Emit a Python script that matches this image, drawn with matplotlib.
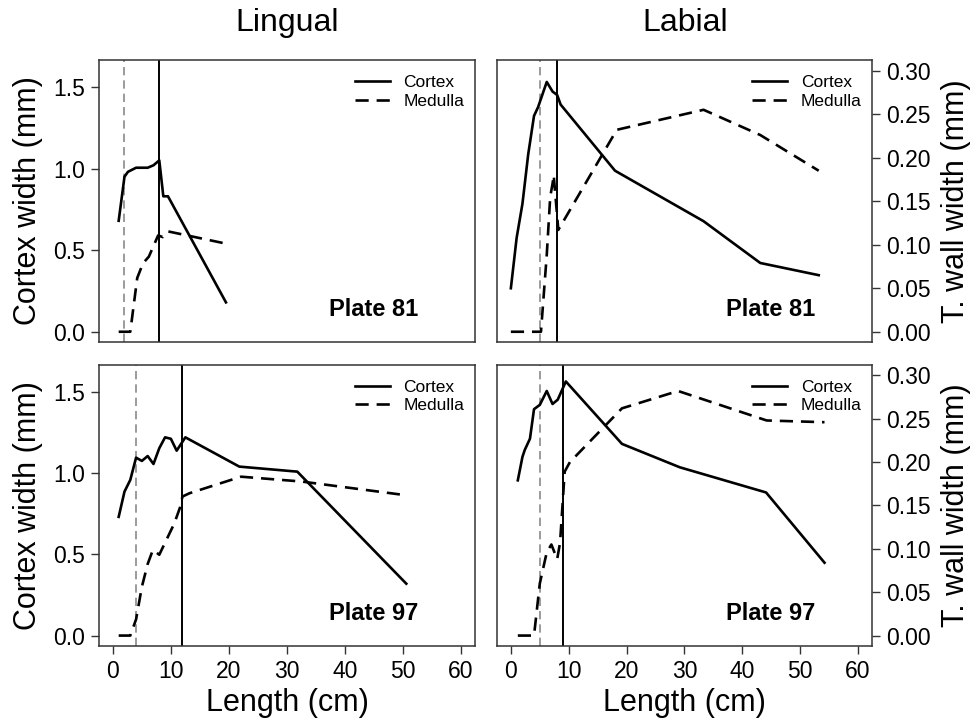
import matplotlib
matplotlib.use("Agg")
import matplotlib.pyplot as plt

plt.rcParams['font.family'] = ['Liberation Sans', 'DejaVu Sans']

# ---- Lingual, plate 81 ----
ling81_cortex_x = [1, 2, 2.6, 4, 6, 7, 8, 8.7, 9.5, 19.5]
ling81_cortex_y = [0.68, 0.95, 0.98, 1.005, 1.005, 1.02, 1.05, 0.83, 0.83, 0.18]
ling81_medulla_x = [1, 3, 4.2, 5.2, 6.2, 7.8, 8.6, 9.5, 19.5]
ling81_medulla_y = [0, 0, 0.33, 0.42, 0.46, 0.59, 0.58, 0.615, 0.54]

# ---- Labial, plate 81 ----
lab81_cortex_x = [0, 1, 2, 3, 4, 4.7, 6.2, 7.2, 8, 8.6, 18, 33.3, 43.1, 53.2]
lab81_cortex_y = [0.05, 0.108, 0.147, 0.204, 0.248, 0.258, 0.287, 0.276, 0.272,
                  0.261, 0.185, 0.127, 0.079, 0.065]
lab81_medulla_x = [0, 5.2, 6.2, 6.8, 7.2, 7.4, 8.2, 18.3, 33.3, 43.1, 53.2]
lab81_medulla_y = [0, 0, 0.088, 0.155, 0.17, 0.18, 0.117, 0.232, 0.255, 0.226, 0.185]

# ---- Lingual, plate 97 ----
ling97_cortex_x = [1, 2, 3, 4, 5, 6, 7, 8, 9, 10, 11, 12.5, 21.8, 31.8, 50.6]
ling97_cortex_y = [0.73, 0.885, 0.957, 1.094, 1.074, 1.104, 1.055, 1.152, 1.219,
                   1.21, 1.137, 1.219, 1.039, 1.008, 0.319]
ling97_medulla_x = [1, 3, 4, 5, 6, 6.9, 8, 10.6, 11.6, 12, 13.2, 22.1, 32.6, 50.1]
ling97_medulla_y = [0, 0, 0.1, 0.3, 0.44, 0.527, 0.497, 0.69, 0.79, 0.855, 0.875,
                    0.977, 0.947, 0.865]

# ---- Labial, plate 97 ----
lab97_cortex_x = [1.2, 2, 2.4, 3.3, 4, 5, 6.2, 7.2, 8.1, 9.5, 19.2, 29.2, 44.1, 54.2]
lab97_cortex_y = [0.179, 0.206, 0.214, 0.227, 0.261, 0.266, 0.282, 0.267, 0.272,
                  0.293, 0.221, 0.194, 0.165, 0.084]
lab97_medulla_x = [1.2, 4, 5, 6.2, 7, 8, 8.5, 9.3, 10.2, 19.2, 28.9, 44.2, 54.2]
lab97_medulla_y = [0, 0, 0.06, 0.096, 0.105, 0.088, 0.107, 0.189, 0.2, 0.262,
                   0.282, 0.248, 0.246]

# reference lengths (grey dashed / black solid verticals)
marks = {
    "ling81": (2, 8),
    "lab81": (5, 8),
    "ling97": (4, 12),
    "lab97": (5, 9),
}

x_ticks = [0, 10, 20, 30, 40, 50, 60]
cortex_ticks = [0.0, 0.5, 1.0, 1.5]
wall_ticks = [0.00, 0.05, 0.10, 0.15, 0.20, 0.25, 0.30]

SPINE = "#333333"

fig = plt.figure(figsize=(9.76, 7.25), dpi=100)

col_x = [0.1014, 0.5092]
col_w = [0.385, 0.3842]
row_y = [0.528, 0.109]
row_h = [0.389, 0.3876]


def panel(row, col, cx, cy, mx, my, key, plate):
    ax = fig.add_axes([col_x[col], row_y[row], col_w[col], row_h[row]])
    gx, bx = marks[key]
    ax.axvline(gx, color="#8a8a8a", lw=1.2, dashes=(5, 3), zorder=1)
    ax.axvline(bx, color="black", lw=1.4, zorder=1)
    ax.plot(cx, cy, color="black", lw=1.9, label="Cortex", zorder=3,
            solid_joinstyle="round")
    ax.plot(mx, my, color="black", lw=1.9, dashes=(5, 3), label="Medulla",
            zorder=3)

    ax.set_xlim(-2.4, 62.4)
    ax.set_xticks(x_ticks)
    for s in ax.spines.values():
        s.set_color(SPINE)
        s.set_linewidth(1.1)
    ax.tick_params(direction="out", length=6, width=1.0, color=SPINE,
                   labelsize=16.5, pad=4)
    if row == 0:
        ax.tick_params(axis="x", bottom=False, labelbottom=False)

    if col == 0:
        ax.set_ylim(-0.064, 1.664)
        ax.set_yticks(cortex_ticks)
        ax.set_yticklabels([f"{v:.1f}" for v in cortex_ticks])
    else:
        ax.set_ylim(-0.012, 0.312)
        ax.set_yticks(wall_ticks)
        ax.set_yticklabels([f"{v:.2f}" for v in wall_ticks])
        ax.yaxis.tick_right()

    ax.legend(loc="upper right", bbox_to_anchor=(1.0, 0.985), frameon=False,
              fontsize=12.5, handlelength=2.0, handletextpad=0.8,
              labelspacing=0.2, borderaxespad=0.3, borderpad=0.3)
    ax.text(0.85, 0.115, plate, transform=ax.transAxes, ha="right",
            va="center", fontsize=17, fontweight="bold")
    return ax


panel(0, 0, ling81_cortex_x, ling81_cortex_y, ling81_medulla_x, ling81_medulla_y,
      "ling81", "Plate 81")
panel(0, 1, lab81_cortex_x, lab81_cortex_y, lab81_medulla_x, lab81_medulla_y,
      "lab81", "Plate 81")
panel(1, 0, ling97_cortex_x, ling97_cortex_y, ling97_medulla_x, ling97_medulla_y,
      "ling97", "Plate 97")
panel(1, 1, lab97_cortex_x, lab97_cortex_y, lab97_medulla_x, lab97_medulla_y,
      "lab97", "Plate 97")

# column headings
fig.text(0.294, 0.968, "Lingual", ha="center", va="center", fontsize=23)
fig.text(0.702, 0.968, "Labial", ha="center", va="center", fontsize=23)

# axis titles
for yc in (0.7228, 0.3028):
    fig.text(0.0287, yc, "Cortex width (mm)", rotation=90, ha="center",
             va="center", fontsize=22)
    fig.text(0.980, yc, "T. wall width (mm)", rotation=90, ha="center",
             va="center", fontsize=22)
for xc in (0.294, 0.701):
    fig.text(xc, 0.030, "Length (cm)", ha="center", va="center", fontsize=22)

fig.savefig("out.png", dpi=100)
